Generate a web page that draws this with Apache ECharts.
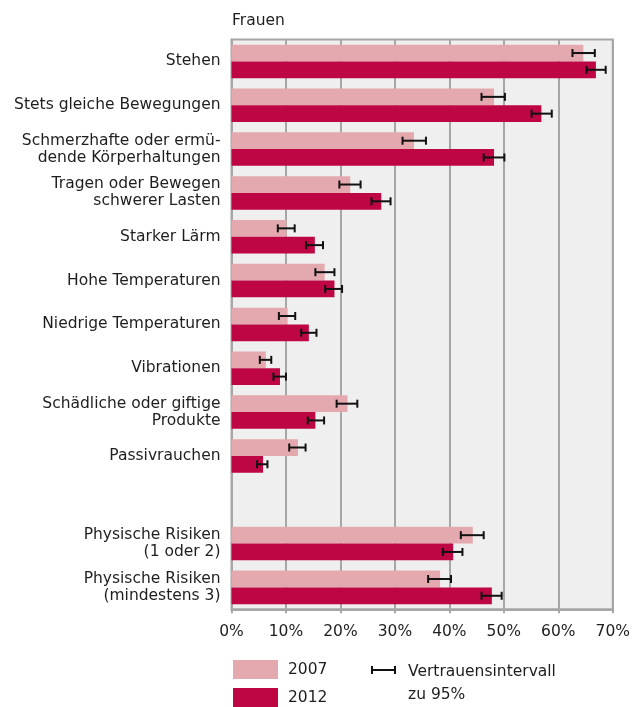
<!DOCTYPE html>
<html>
<head>
<meta charset="utf-8">
<script src="https://cdn.jsdelivr.net/npm/echarts@6/dist/echarts.min.js"></script>
<style>html,body{margin:0;padding:0;background:#fff}#c{width:633px;height:707px}</style>
</head>
<body>
<div id="c"></div>
<script>
const categories = [
  'Stehen',
  'Stets gleiche Bewegungen',
  'Schmerzhafte oder ermü-\ndende Körperhaltungen',
  'Tragen oder Bewegen\nschwerer Lasten',
  'Starker Lärm',
  'Hohe Temperaturen',
  'Niedrige Temperaturen',
  'Vibrationen',
  'Schädliche oder giftige\nProdukte',
  'Passivrauchen',
  '',
  'Physische Risiken\n(1 oder 2)',
  'Physische Risiken\n(mindestens 3)'
];
const values2007 = [64.6, 48.2, 33.5, 21.8, 10.1, 17.1, 10.3, 6.3, 21.3, 12.2, null, 44.3, 38.3];
const values2012 = [66.9, 56.9, 48.2, 27.5, 15.3, 18.9, 14.2, 8.9, 15.4, 5.8, null, 40.7, 47.8];
const ciLow2007  = [62.6, 45.9, 31.4, 19.8, 8.5, 15.4, 8.7, 5.2, 19.3, 10.6, null, 42.1, 36.1];
const ciHigh2007 = [66.7, 50.2, 35.7, 23.7, 11.6, 18.9, 11.7, 7.3, 23.1, 13.6, null, 46.3, 40.3];
const ciLow2012  = [65.2, 55.1, 46.3, 25.7, 13.7, 17.2, 12.8, 7.7, 14.0, 4.7, null, 38.8, 45.9];
const ciHigh2012 = [68.7, 58.8, 50.1, 29.2, 16.8, 20.3, 15.6, 10.0, 17.0, 6.6, null, 42.4, 49.6];
const xTicks = [0, 10, 20, 30, 40, 50, 60, 70];
const seriesNames = ['2007', '2012'];

const FONT = 'DejaVu Sans';
const TXT = '#1e1e1e';
const GRID = '#a6a6a6';
const C2007 = '#e4a9ae';
const C2012 = '#be0644';
const CAT_GAP = 0.235;

function ciData(lo, hi) {
  const out = [];
  lo.forEach((v, i) => { if (v != null) out.push([i, v, hi[i]]); });
  return out;
}
function errRender(sign) {
  return function (params, api) {
    const cat = api.value(0);
    const a = api.coord([api.value(1), cat]);
    const b = api.coord([api.value(2), cat]);
    const band = api.size([0, 1])[1];
    const pair = band * (1 - CAT_GAP);
    const y = a[1] + sign * pair / 4;
    const cap = 4;
    const st = { stroke: '#111', lineWidth: 2 };
    return {
      type: 'group',
      children: [
        { type: 'line', shape: { x1: a[0], y1: y, x2: b[0], y2: y }, style: st },
        { type: 'line', shape: { x1: a[0], y1: y - cap, x2: a[0], y2: y + cap }, style: st },
        { type: 'line', shape: { x1: b[0], y1: y - cap, x2: b[0], y2: y + cap }, style: st }
      ]
    };
  };
}

const legendText = { fontFamily: FONT, fontSize: 15.5, color: TXT, padding: [0, 0, 0, 5] };
const chart = echarts.init(document.getElementById('c'));
chart.setOption({
  animation: false,
  textStyle: { fontFamily: FONT },
  title: {
    text: 'Frauen', left: 232, top: 13, padding: 0,
    textStyle: { fontFamily: FONT, fontSize: 15.5, fontWeight: 'normal', color: TXT }
  },
  legend: [
    { data: [seriesNames[0]], left: 233, top: 660, padding: 0, itemWidth: 45, itemHeight: 19, icon: 'rect', textStyle: legendText },
    { data: [seriesNames[1]], left: 233, top: 688, padding: 0, itemWidth: 45, itemHeight: 19, icon: 'rect', textStyle: legendText }
  ],
  grid: {
    left: 231.5, right: 18.5, top: 39.5, bottom: 97.7,
    show: true, backgroundColor: '#efefef', borderColor: GRID, borderWidth: 2
  },
  xAxis: {
    type: 'value', min: xTicks[0], max: xTicks[xTicks.length - 1], interval: 10,
    axisLine: { show: true, lineStyle: { color: GRID, width: 2 } },
    axisTick: { show: true, length: 4, lineStyle: { color: GRID, width: 2 } },
    splitLine: { show: true, lineStyle: { color: GRID, width: 2 } },
    axisLabel: { formatter: '{value}%', fontFamily: FONT, fontSize: 15.5, color: TXT, margin: 15 }
  },
  yAxis: {
    type: 'category', data: categories, inverse: true,
    axisLine: { show: true, lineStyle: { color: GRID, width: 2 } },
    axisTick: { show: false },
    splitLine: { show: false },
    axisLabel: { fontFamily: FONT, fontSize: 15.5, color: TXT, margin: 11, lineHeight: 17, align: 'right' }
  },
  series: [
    { name: seriesNames[0], type: 'bar', data: values2007, itemStyle: { color: C2007 }, barGap: '0%', barCategoryGap: (CAT_GAP * 100) + '%' },
    { name: seriesNames[1], type: 'bar', data: values2012, itemStyle: { color: C2012 }, barGap: '0%', barCategoryGap: (CAT_GAP * 100) + '%' },
    { type: 'custom', renderItem: errRender(-1), data: ciData(ciLow2007, ciHigh2007), encode: { x: [1, 2], y: 0 }, z: 5 },
    { type: 'custom', renderItem: errRender(1), data: ciData(ciLow2012, ciHigh2012), encode: { x: [1, 2], y: 0 }, z: 5 }
  ],
  graphic: [
    { type: 'line', shape: { x1: 372, y1: 670, x2: 395, y2: 670 }, style: { stroke: '#111', lineWidth: 2 } },
    { type: 'line', shape: { x1: 372, y1: 666, x2: 372, y2: 674 }, style: { stroke: '#111', lineWidth: 2 } },
    { type: 'line', shape: { x1: 395, y1: 666, x2: 395, y2: 674 }, style: { stroke: '#111', lineWidth: 2 } },
    { type: 'text', left: 408, top: 660, style: { text: 'Vertrauensintervall\nzu 95%', font: '15.5px "DejaVu Sans"', fill: TXT, lineHeight: 23 } }
  ]
});
</script>
</body>
</html>
